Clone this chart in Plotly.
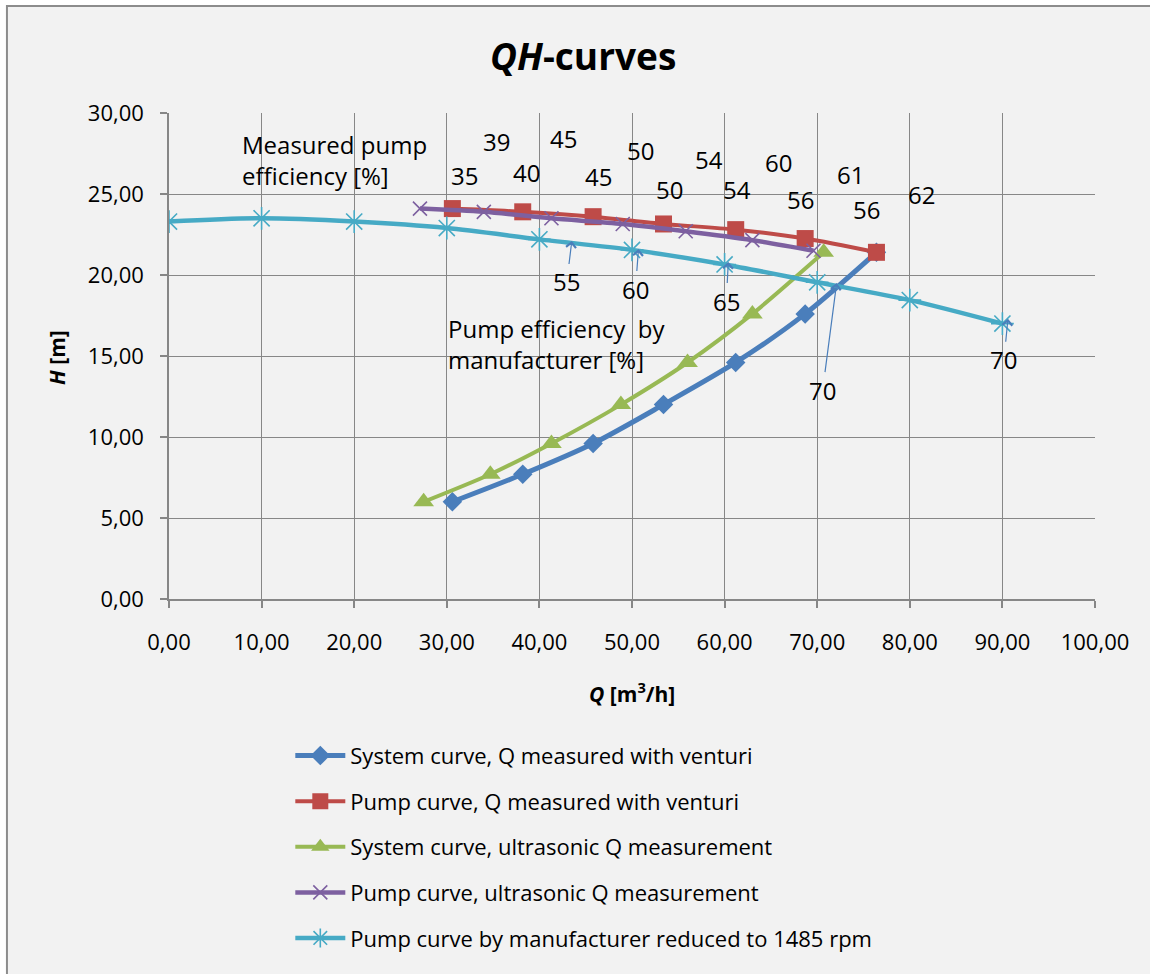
import plotly.graph_objects as go

# ---- data -------------------------------------------------------------
# System curve, Q measured with venturi
sys_venturi_q = [30.6, 38.2, 45.8, 53.4, 61.2, 68.7, 76.4]
sys_venturi_h = [6.0, 7.7, 9.6, 12.0, 14.6, 17.6, 21.4]
# Pump curve, Q measured with venturi
pump_venturi_q = [30.6, 38.2, 45.8, 53.4, 61.2, 68.7, 76.4]
pump_venturi_h = [24.1, 23.9, 23.6, 23.15, 22.8, 22.25, 21.4]
# System curve, ultrasonic Q measurement
sys_ultra_q = [27.5, 34.7, 41.3, 48.8, 56.0, 63.0, 70.7]
sys_ultra_h = [6.0, 7.7, 9.6, 12.0, 14.6, 17.6, 21.4]
# Pump curve, ultrasonic Q measurement
pump_ultra_q = [27.1, 34.0, 41.3, 49.0, 55.8, 63.0, 69.6]
pump_ultra_h = [24.1, 23.9, 23.5, 23.15, 22.7, 22.15, 21.5]
# Pump curve by manufacturer reduced to 1485 rpm
manuf_q = [0, 10, 20, 30, 40, 50, 60, 70, 80, 90]
manuf_h = [23.3, 23.5, 23.3, 22.9, 22.2, 21.55, 20.65, 19.55, 18.45, 17.0]

# Measured pump efficiency [%] (two rows of labels)
eff_upper = [39, 45, 50, 54, 60, 61, 62]
eff_lower = [35, 40, 45, 50, 54, 56, 56]
# Pump efficiency by manufacturer [%] and the (Q, H) points they refer to
manuf_eff = [55, 60, 65, 70, 70]
manuf_eff_q = [43.5, 50.7, 60.4, 72.1, 90.6]
manuf_eff_h = [22.1, 21.6, 20.8, 19.5, 17.3]

x_ticks = [0, 10, 20, 30, 40, 50, 60, 70, 80, 90, 100]
y_ticks = [0, 5, 10, 15, 20, 25, 30]

# ---- layout helpers ---------------------------------------------------
FONT = "Open Sans"
GRID = "#878787"
BG = "#f2f2f2"

# label anchor positions in data units
upper_pos = [(35.4, 28.25), (42.6, 28.4), (50.9, 27.7), (58.3, 27.16),
             (65.8, 26.95), (73.6, 26.19), (81.3, 24.95)]
lower_pos = [(31.9, 26.15), (38.65, 26.3), (46.4, 26.08), (54.1, 25.26),
             (61.3, 25.26), (68.2, 24.69), (75.3, 24.03)]
# pixel offsets (text centre relative to arrow tip)
arrow_off = [(-5, 41), (-3, 40), (-2, 39), (-14, 107), (-4, 41)]

series = [
    ("System curve, Q measured with venturi", sys_venturi_q, sys_venturi_h,
     "#4a7ebb", 5, dict(symbol="diamond", size=15, color="#4a7ebb")),
    ("Pump curve, Q measured with venturi", pump_venturi_q, pump_venturi_h,
     "#be4b48", 4, dict(symbol="square", size=17, color="#be4b48")),
    ("System curve, ultrasonic Q measurement", sys_ultra_q, sys_ultra_h,
     "#98b954", 4, dict(symbol="triangle-up", size=18, color="#98b954")),
    ("Pump curve, ultrasonic Q measurement", pump_ultra_q, pump_ultra_h,
     "#7d60a0", 4.5, dict(symbol="x-thin", size=14, color="#7d60a0",
                          line=dict(color="#7d60a0", width=1.6))),
    ("Pump curve by manufacturer reduced to 1485 rpm", manuf_q, manuf_h,
     "#46aac5", 4.5, dict(symbol="asterisk", size=19, color="#46aac5",
                          line=dict(color="#46aac5", width=1.6))),
]

fig = go.Figure()
for i, (name, q, h, col, lw, mk) in enumerate(series):
    fig.add_trace(go.Scatter(
        x=q, y=h, name=name, mode="lines+markers",
        line=dict(color=col, width=lw, shape="spline", smoothing=0.8),
        marker=mk, legendgroup=f"g{i}",
    ))

ann = []
for v, (px, py) in zip(eff_upper, upper_pos):
    ann.append(dict(x=px, y=py, xref="x", yref="y", text=str(v),
                    showarrow=False, font=dict(size=24)))
for v, (px, py) in zip(eff_lower, lower_pos):
    ann.append(dict(x=px, y=py, xref="x", yref="y", text=str(v),
                    showarrow=False, font=dict(size=24)))
for v, q, h, (dx, dy) in zip(manuf_eff, manuf_eff_q, manuf_eff_h, arrow_off):
    ann.append(dict(x=q, y=h, xref="x", yref="y", text=str(v),
                    showarrow=True, ax=dx, ay=dy, arrowhead=4, arrowsize=1.6,
                    arrowwidth=1.2, arrowcolor="#4a7ebb", standoff=0,
                    font=dict(size=24)))

ann += [
    dict(x=7.67, y=27.1, xref="x", yref="y", xanchor="left", align="left",
         text="Measured pump<br>efficiency [%]", showarrow=False,
         font=dict(size=24)),
    dict(x=29.9, y=15.75, xref="x", yref="y", xanchor="left", align="left",
         text="Pump efficiency &nbsp;by<br>manufacturer [%]", showarrow=False,
         font=dict(size=24)),
    dict(x=0.447, y=1.119, xref="paper", yref="paper",
         xanchor="center", yanchor="middle",
         text="<b><i>QH</i>-curves</b>", showarrow=False, font=dict(size=37)),
    dict(x=0.5, y=-0.193, xref="paper", yref="paper",
         xanchor="center", yanchor="middle",
         text="<b><i>Q</i> [m<sup>3</sup>/h]</b>", showarrow=False,
         font=dict(size=21)),
    dict(x=-0.121, y=0.498, xref="paper", yref="paper", textangle=-90,
         xanchor="center", yanchor="middle",
         text="<b><i>H</i> [m]</b>", showarrow=False, font=dict(size=21)),
]

axis_common = dict(
    showgrid=True, gridcolor=GRID, gridwidth=1,
    showline=True, linecolor=GRID, linewidth=1.5,
    ticks="outside", ticklen=7, tickcolor=GRID, tickwidth=1.5,
    zeroline=False, tickformat=".2f",
    tickfont=dict(size=22, color="black", family=FONT),
)

fig.update_layout(
    width=1150, height=974,
    margin=dict(l=169, r=55, t=113, b=375, autoexpand=False),
    paper_bgcolor="white", plot_bgcolor="rgba(0,0,0,0)",
    font=dict(family=FONT, color="black", size=22),
    separators=", ",
    xaxis=dict(range=[0, 100], tickvals=x_ticks, ticklabelstandoff=16,
               **axis_common),
    yaxis=dict(range=[0, 30], tickvals=y_ticks, ticklabelstandoff=12,
               **axis_common),
    annotations=ann,
    shapes=[dict(type="rect", xref="paper", yref="paper",
                 x0=-0.175, x1=1.3, y0=-0.9, y1=1.2202,
                 line=dict(color="#8c8c8c", width=2), fillcolor=BG,
                 layer="below")],
    showlegend=True,
    legend=dict(x=0.131, y=-0.2794, xanchor="left", yanchor="top",
                bgcolor="rgba(0,0,0,0)", tracegroupgap=14, itemwidth=50,
                font=dict(size=22, family=FONT)),
)

fig.write_html("out.html")
